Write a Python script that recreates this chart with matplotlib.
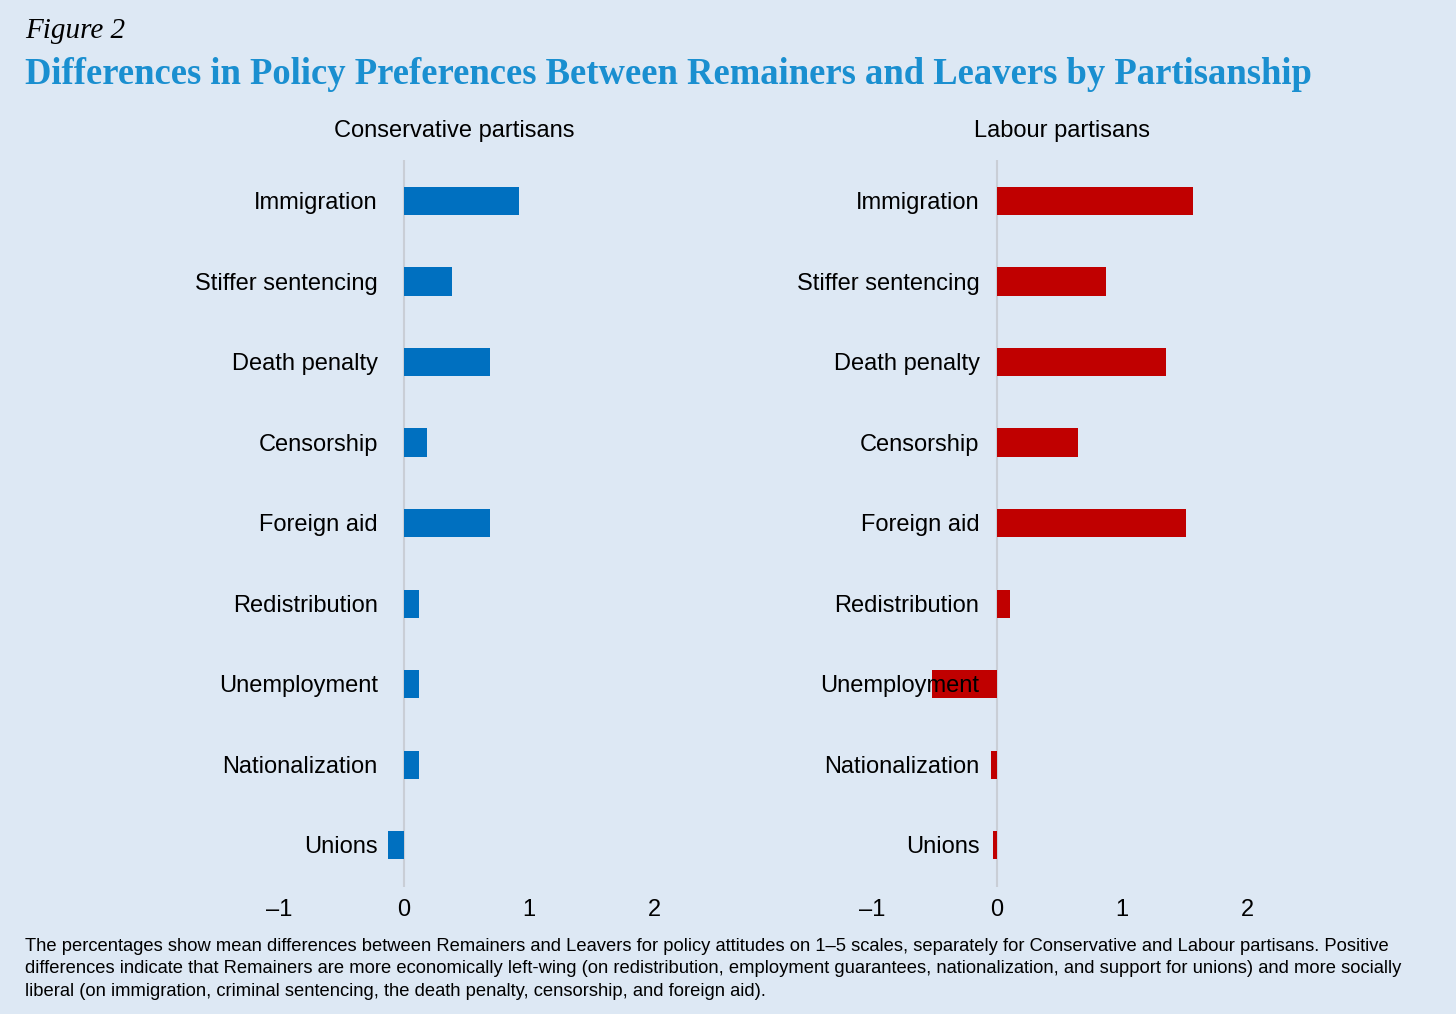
import numpy as np
import matplotlib
matplotlib.use('Agg')
import matplotlib.pyplot as plt

# data
categories = ['Immigration', 'Stiffer sentencing', 'Death penalty', 'Censorship',
              'Foreign aid', 'Redistribution', 'Unemployment', 'Nationalization', 'Unions']
conservative = [0.92, 0.38, 0.69, 0.18, 0.69, 0.12, 0.12, 0.12, -0.13]
labour = [1.57, 0.87, 1.35, 0.65, 1.51, 0.10, -0.52, -0.05, -0.03]
tick_values = [-1, 0, 1, 2]
tick_labels = ['\u20131', '0', '1', '2']

bg = '#dde8f4'
W, H = 1456, 1014

fig = plt.figure(figsize=(W / 100, H / 100), dpi=100, facecolor=bg)


def px_box(x0, y0, x1, y1):
    # pixel box (top-left origin) -> figure fraction rect
    return [x0 / W, 1 - y1 / H, (x1 - x0) / W, (y1 - y0) / H]


def draw_panel(rect, values, color, label_x, title, title_x):
    ax = fig.add_axes(rect)
    ax.set_facecolor(bg)
    y = np.arange(len(categories))
    ax.axvline(0, color='#c9ced6', lw=1.5, zorder=1)
    ax.barh(y, values, height=0.35, color=color, zorder=2)
    for yi, name in zip(y, categories):
        ax.text(label_x, yi + 0.025, name, ha='right', va='center', fontsize=17,
                family='Liberation Sans', color='black', zorder=3)
    ax.set_xlim(-1.2, 2.2)
    ax.set_ylim(8.52, -0.51)
    ax.set_yticks([])
    ax.set_xticks(tick_values)
    ax.set_xticklabels(tick_labels, fontsize=17, family='Liberation Sans')
    ax.tick_params(axis='x', length=0, pad=9)
    for s in ax.spines.values():
        s.set_visible(False)
    fig.text(title_x / W, 1 - 131 / H, title, ha='center', va='center',
             fontsize=17, family='Liberation Sans')
    return ax


draw_panel(px_box(254, 160, 679, 887), conservative, '#0070c0', -0.21,
           'Conservative partisans', 454)
draw_panel(px_box(847, 160, 1272, 887), labour, '#c00000', -0.14,
           'Labour partisans', 1062)

fig.text(25 / W, 1 - 31 / H, 'Figure 2', ha='left', va='center', fontsize=21,
         style='italic', family='Liberation Serif', color='black')
fig.text(25 / W, 1 - 75 / H,
         'Differences in Policy Preferences Between Remainers and Leavers by Partisanship',
         ha='left', va='center', fontsize=26.4, weight='bold',
         family='Liberation Serif', color='#1a8fd0')

note = ('The percentages show mean differences between Remainers and Leavers for policy attitudes on 1\u20135 scales, '
        'separately for Conservative and Labour partisans. Positive\n'
        'differences indicate that Remainers are more economically left-wing (on redistribution, employment guarantees, '
        'nationalization, and support for unions) and more socially\n'
        'liberal (on immigration, criminal sentencing, the death penalty, censorship, and foreign aid).')
fig.text(25 / W, 1 - 938 / H, note, ha='left', va='top', fontsize=13.2,
         family='Liberation Sans', linespacing=1.42)

fig.savefig('out.png', dpi=100, facecolor=bg)
